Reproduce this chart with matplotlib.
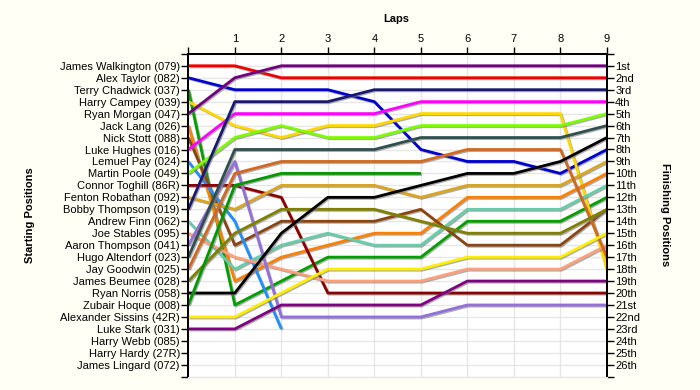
import numpy as np
import matplotlib.pyplot as plt
import matplotlib.patheffects as pe

nan = np.nan

drivers = ["James Walkington (079)", "Alex Taylor (082)", "Terry Chadwick (037)",
           "Harry Campey (039)", "Ryan Morgan (047)", "Jack Lang (026)",
           "Nick Stott (088)", "Luke Hughes (016)", "Lemuel Pay (024)",
           "Martin Poole (049)", "Connor Toghill (86R)", "Fenton Robathan (092)",
           "Bobby Thompson (019)", "Andrew Finn (062)", "Joe Stables (095)",
           "Aaron Thompson (041)", "Hugo Altendorf (023)", "Jay Goodwin (025)",
           "James Beumee (028)", "Ryan Norris (058)", "Zubair Hoque (008)",
           "Alexander Sissins (42R)", "Luke Stark (031)", "Harry Webb (085)",
           "Harry Hardy (27R)", "James Lingard (072)"]

finish_labels = ["1st", "2nd", "3rd", "4th", "5th", "6th", "7th", "8th", "9th",
                 "10th", "11th", "12th", "13th", "14th", "15th", "16th", "17th",
                 "18th", "19th", "20th", "21st", "22nd", "23rd", "24th", "25th",
                 "26th"]

laps = [0, 1, 2, 3, 4, 5, 6, 7, 8, 9]

# position of each driver at each lap (lap 0 = grid)
positions = {
    "James Walkington (079)": [1, 1, 2, 2, 2, 2, 2, 2, 2, 2],
    "Alex Taylor (082)": [2, 3, 3, 3, 4, 8, 9, 9, 10, 8],
    "Terry Chadwick (037)": [3, 21, 19, 17, 17, 17, 14, 14, 14, 12],
    "Harry Campey (039)": [4, 6, 7, 6, 6, 5, 5, 5, 5, 18],
    "Ryan Morgan (047)": [5, 2, 1, 1, 1, 1, 1, 1, 1, 1],
    "Jack Lang (026)": [6, 19, 17, 16, 15, 15, 12, 12, 12, 10],
    "Nick Stott (088)": [7, 16, 14, 14, 14, 13, 16, 16, 16, 13],
    "Luke Hughes (016)": [8, 5, 5, 5, 5, 4, 4, 4, 4, 4],
    "Lemuel Pay (024)": [9, 14, 23, nan, nan, nan, nan, nan, nan, nan],
    "Martin Poole (049)": [10, 7, 6, 7, 7, 6, 6, 6, 6, 5],
    "Connor Toghill (86R)": [11, 11, 12, 20, 20, 20, 20, 20, 20, 20],
    "Fenton Robathan (092)": [12, 13, 11, 11, 11, 12, 11, 11, 11, 9],
    "Bobby Thompson (019)": [13, 4, 4, 4, 3, 3, 3, 3, 3, 3],
    "Andrew Finn (062)": [14, 18, 16, 15, 16, 16, 13, 13, 13, 11],
    "Joe Stables (095)": [15, 17, 18, 19, 19, 19, 18, 18, 18, 16],
    "Aaron Thompson (041)": [16, 9, 22, 22, 22, 22, 21, 21, 21, 21],
    "Hugo Altendorf (023)": [17, 8, 8, 8, 8, 7, 7, 7, 7, 6],
    "Jay Goodwin (025)": [18, 10, 9, 9, 9, 9, 8, 8, 8, 17],
    "James Beumee (028)": [19, 15, 13, 13, 13, 14, 15, 15, 15, 13],
    "Ryan Norris (058)": [20, 20, 15, 12, 12, 11, 10, 10, 9, 7],
    "Zubair Hoque (008)": [21, 11, 10, 10, 10, 10, nan, nan, nan, nan],
    "Alexander Sissins (42R)": [22, 22, 20, 18, 18, 18, 17, 17, 17, 15],
    "Luke Stark (031)": [23, 23, 21, 21, 21, 21, 19, 19, 19, 19],
}

colors = {
    "James Walkington (079)": "#ee0000",
    "Alex Taylor (082)": "#0000cc",
    "Terry Chadwick (037)": "#00a000",
    "Harry Campey (039)": "#ffd800",
    "Ryan Morgan (047)": "#700080",
    "Jack Lang (026)": "#ff7f00",
    "Nick Stott (088)": "#8b4513",
    "Luke Hughes (016)": "#ff00ff",
    "Lemuel Pay (024)": "#1e90ff",
    "Martin Poole (049)": "#7cfc00",
    "Connor Toghill (86R)": "#8b0000",
    "Fenton Robathan (092)": "#daa520",
    "Bobby Thompson (019)": "#191970",
    "Andrew Finn (062)": "#66cdaa",
    "Joe Stables (095)": "#ffa07a",
    "Aaron Thompson (041)": "#9370db",
    "Hugo Altendorf (023)": "#2f4f4f",
    "Jay Goodwin (025)": "#d2691e",
    "James Beumee (028)": "#808000",
    "Ryan Norris (058)": "#000000",
    "Zubair Hoque (008)": "#009900",
    "Alexander Sissins (42R)": "#ffee00",
    "Luke Stark (031)": "#800080",
}

plt.rcParams['font.family'] = ['Liberation Sans', 'DejaVu Sans']

fig = plt.figure(figsize=(7, 3.9), dpi=100, facecolor='#fffff5')
ax = fig.add_axes([0.269, 0.034, 0.598, 0.828])
ax.set_facecolor('white')

shadow = [pe.SimpleLineShadow(offset=(0.8, -0.8), shadow_color='#777777', alpha=0.6),
          pe.Normal()]

for name, pos in positions.items():
    ax.plot(laps, pos, color=colors[name], lw=2, solid_capstyle='butt',
            path_effects=shadow, zorder=3)

n = len(drivers)
ax.set_xlim(0, 9)
ax.set_ylim(n + 1, 0)

ax.set_yticks(range(0, n + 2))
ax.set_yticklabels([''] + drivers + [''], fontsize=8)
ax.set_xticks(laps)
ax.set_xticklabels([''] + [str(l) for l in laps[1:]], fontsize=8)
ax.xaxis.tick_top()
ax.tick_params(axis='x', length=5, width=1, pad=2)
ax.tick_params(axis='y', length=5, width=1, pad=1)
ax.grid(color='#e6e6e6', lw=1, zorder=0)

ax2 = ax.twinx()
ax2.set_ylim(n + 1, 0)
ax2.set_yticks(range(0, n + 2))
ax2.set_yticklabels([''] + finish_labels + [''], fontsize=8)
ax2.tick_params(axis='y', length=5, width=1, pad=1)

for a in (ax, ax2):
    a.spines['bottom'].set_color('#e6e6e6')
    a.spines['top'].set_linewidth(1.3)
    a.spines['left'].set_linewidth(1.3)
    a.spines['right'].set_linewidth(1.3)

fig.text(0.566, 0.952, "Laps", ha='center', va='center', fontsize=8, fontweight='bold')
fig.text(0.043, 0.449, "Starting Positions", ha='center', va='center', rotation=90,
         fontsize=8, fontweight='bold')
fig.text(0.95, 0.449, "Finishing Positions", ha='center', va='center', rotation=270,
         fontsize=8, fontweight='bold')

fig.savefig('out.png', dpi=100, facecolor=fig.get_facecolor())
